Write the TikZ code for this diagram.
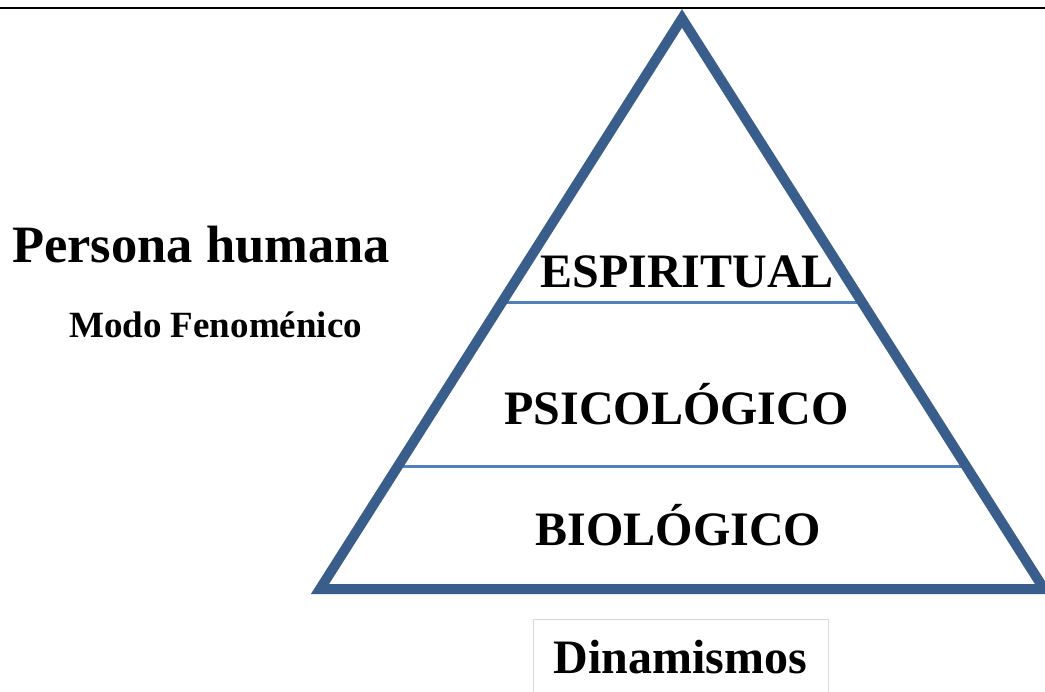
\documentclass[tikz,border=0pt]{standalone}
\usepackage{fontspec}
\setmainfont{Liberation Serif}
\usetikzlibrary{calc}
\definecolor{triblue}{RGB}{58,94,140}
\definecolor{lineblue}{RGB}{79,129,189}
\definecolor{boxgray}{RGB}{217,217,217}
\begin{document}
\begin{tikzpicture}[x=1pt,y=-1pt,
  label/.style={inner sep=0pt,font=\bfseries\fontsize{48}{48}\selectfont,anchor=base},
  divider/.style={draw=lineblue,line width=3pt},
  tri/.style={draw=triblue,line width=10pt,line join=miter}]
\useasboundingbox (0,0) rectangle (1045,692);
% top rule
\coordinate (tl) at (0,8);
\coordinate (tr) at (1045,8);
\draw[line width=2pt] (tl) -- (tr);
% triangle corners
\coordinate (apex) at (682,18.5);
\coordinate (bl) at (320,589);
\coordinate (br) at (1044,589);
% dividers
\coordinate (d1l) at ($(apex)!0.497!(bl)$);
\coordinate (d1r) at ($(apex)!0.497!(br)$);
\coordinate (d2l) at ($(apex)!0.786!(bl)$);
\coordinate (d2r) at ($(apex)!0.786!(br)$);
\draw[divider] (d1l) -- (d1r);
\draw[divider] (d2l) -- (d2r);
\draw[tri] (apex) -- (bl) -- (br) -- cycle;
% labels
\node[label] (esp) at (687,288) {ESPIRITUAL};
\node[label] (psi) at (676.5,425) {PSICOLÓGICO};
\node[label] (bio) at (678.5,546) {BIOLÓGICO};
\node[label] (din) at (680.5,673) {Dinamismos};
\draw[boxgray,line width=1pt] (533,692) -- (533,619) -- (828,619) -- (828,692);
\node[inner sep=0pt,anchor=base west,font=\bfseries\fontsize{52.5}{52.5}\selectfont] (per) at (12,263) {Persona humana};
\node[inner sep=0pt,anchor=base west,font=\bfseries\fontsize{37}{37}\selectfont] (modo) at (69,338) {Modo Fenoménico};
\end{tikzpicture}
\end{document}
